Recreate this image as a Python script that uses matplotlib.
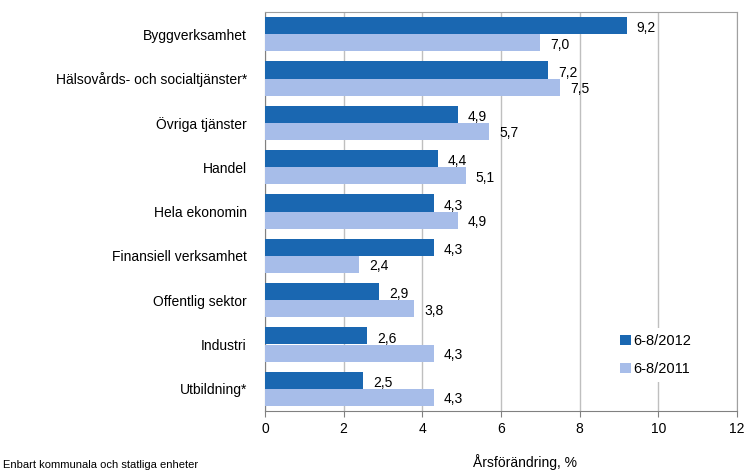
import matplotlib.pyplot as plt
import numpy as np

plt.rcParams['font.family'] = ['Liberation Sans', 'DejaVu Sans']

kategorier = ["Byggverksamhet", "Hälsovårds- och socialtjänster*", "Övriga tjänster",
              "Handel", "Hela ekonomin", "Finansiell verksamhet", "Offentlig sektor",
              "Industri", "Utbildning*"]
v2012 = [9.2, 7.2, 4.9, 4.4, 4.3, 4.3, 2.9, 2.6, 2.5]
v2011 = [7.0, 7.5, 5.7, 5.1, 4.9, 2.4, 3.8, 4.3, 4.3]
serier = ["6-8/2012", "6-8/2011"]
xticks = [0, 2, 4, 6, 8, 10, 12]

mork = "#1A67B1"
ljus = "#A7BDE9"
grid = "#BFBFBF"

fig = plt.figure(figsize=(7.45, 4.72), dpi=100)
ax = fig.add_axes([265/745, 1-411/472, 472/745, 399/472])

y = np.arange(len(kategorier))
h = 0.39
ax.barh(y - 0.195, v2012, height=h, color=mork, label=serier[0], zorder=3)
ax.barh(y + 0.195, v2011, height=h, color=ljus, label=serier[1], zorder=3)

# etiketter vid staplarnas ände
for yi, v in zip(y, v2012):
    ax.text(v + 0.25, yi - 0.13, f"{v:.1f}".replace(".", ","), va="center", ha="left", fontsize=10)
for yi, v in zip(y, v2011):
    ax.text(v + 0.25, yi + 0.24, f"{v:.1f}".replace(".", ","), va="center", ha="left", fontsize=10)

ax.set_xlim(0, 12)
ax.set_ylim(8.5, -0.5)
ax.set_xticks(xticks)
ax.set_xticklabels([str(t) for t in xticks], fontsize=10)
ax.set_yticks(y)
ax.set_yticklabels(kategorier, fontsize=10)
ax.tick_params(axis="y", length=0, pad=13)
ax.tick_params(axis="x", length=4, color="#808080", pad=4)
ax.xaxis.grid(True, color=grid, linewidth=1, zorder=0)
for s in ax.spines.values():
    s.set_color("#A0A0A0")
ax.spines["left"].set_color("#808080")
ax.spines["bottom"].set_color("#808080")

ax.set_xlabel("Årsförändring, %", fontsize=10)
ax.xaxis.set_label_coords(0.55, -0.108)

leg = ax.legend(loc="lower left", bbox_to_anchor=(0.725, 0.055), frameon=True, fontsize=10.5,
                handlelength=0.75, handleheight=0.75, handletextpad=0.15, labelspacing=0.95,
                borderpad=0.4, fancybox=False)
leg.get_frame().set_edgecolor("none")
leg.get_frame().set_facecolor("white")
leg.get_frame().set_alpha(1)
leg.set_zorder(5)

fig.text(3/745, 2/472, "Enbart kommunala och statliga enheter", fontsize=8, ha="left", va="bottom")

fig.savefig("out.png", dpi=100)
